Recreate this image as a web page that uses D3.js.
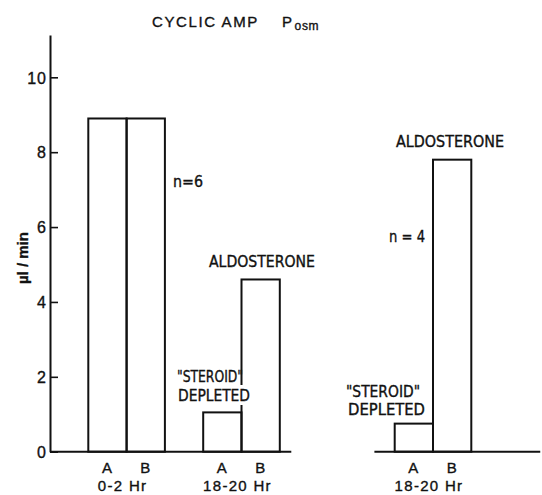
<!DOCTYPE html>
<html>
<head>
<meta charset="utf-8">
<script src="https://cdn.jsdelivr.net/npm/d3@7"></script>
<style>
  body { margin: 0; background: #fff; }
  svg { display: block; }
  text { fill: #111; stroke: #111; stroke-width: 0.35px; }
  .wide { font-family: "Liberation Sans", Arial, sans-serif; }
  .narrow { font-family: "Liberation Sans Narrow", "DejaVu Sans Condensed", sans-serif; }
</style>
</head>
<body>
<script>
// chart values
var conditions = ["A", "B"];
var earlyValues = [8.9, 8.9];       // 0-2 Hr, n=6
var lateValues = [1.05, 4.6];       // 18-20 Hr, n=6
var secondValues = [0.75, 7.8];     // 18-20 Hr, n=4
var periodLabels = ["0-2 Hr", "18-20 Hr", "18-20 Hr"];
var yTicks = [0, 2, 4, 6, 8, 10];

var width = 542, height = 495;

var svg = d3.select("body").append("svg")
    .attr("width", width)
    .attr("height", height);

// x in "bar widths" from the y axis
var x = d3.scaleLinear().domain([0, 1]).range([50, 88.3]);
var y = d3.scaleLinear().domain([0, 11.13]).range([451.7, 35]);

var groups = [
    {start: 1, values: earlyValues, period: periodLabels[0]},
    {start: 4, values: lateValues, period: periodLabels[1]},
    {start: 9, values: secondValues, period: periodLabels[2]}
];

// y axis
var axis = svg.append("g")
    .attr("transform", "translate(" + x(0) + ",0)")
    .call(d3.axisLeft(y).tickValues(yTicks).tickSizeInner(-8).tickSizeOuter(0).tickPadding(3));
axis.select(".domain").attr("stroke", "#111").attr("stroke-width", 2);
axis.selectAll(".tick line").attr("stroke", "#111").attr("stroke-width", 1.6);
axis.selectAll(".tick text")
    .attr("class", "wide")
    .attr("dy", "0.36em")
    .style("font-size", "16px")
    .style("letter-spacing", "1px")
    .attr("fill", "#111");

// baselines
svg.append("line")
    .attr("x1", x(0)).attr("x2", x(6.3))
    .attr("y1", y(0)).attr("y2", y(0))
    .attr("stroke", "#111").attr("stroke-width", 2);
svg.append("line")
    .attr("x1", x(8.47)).attr("x2", x(12.8))
    .attr("y1", y(0)).attr("y2", y(0))
    .attr("stroke", "#111").attr("stroke-width", 2);

// bars
groups.forEach(function(g) {
    svg.append("g")
        .selectAll("rect")
        .data(g.values)
        .enter()
        .append("rect")
        .attr("x", function(d, i) { return x(g.start + i); })
        .attr("width", x(1) - x(0))
        .attr("y", function(d) { return y(d); })
        .attr("height", function(d) { return y(0) - y(d); })
        .attr("fill", "none")
        .attr("stroke", "#111")
        .attr("stroke-width", 2);

    svg.append("g")
        .selectAll("text")
        .data(conditions)
        .enter()
        .append("text")
        .attr("class", "wide")
        .attr("x", function(d, i) { return x(g.start + i + 0.5) - 0.5; })
        .attr("y", 473)
        .attr("text-anchor", "middle")
        .style("font-size", "15px")
        .text(function(d) { return d; });

    svg.append("text")
        .attr("class", "wide")
        .attr("x", x(g.start + 1) - 4)
        .attr("y", 491)
        .attr("text-anchor", "middle")
        .style("font-size", "15px")
        .style("letter-spacing", "1.3px")
        .text(g.period);
});

// title
var title = svg.append("text")
    .attr("class", "wide")
    .attr("x", 152)
    .attr("y", 27)
    .style("font-size", "15px")
    .style("letter-spacing", "1.6px");
title.append("tspan").text("CYCLIC  AMP");
title.append("tspan").attr("x", 282).text("P");
title.append("tspan").attr("dx", 1).attr("dy", 3).style("font-size", "12px").style("letter-spacing", "0.6px").text("osm");

// y label
svg.append("text")
    .attr("class", "wide")
    .attr("transform", "translate(28,258) rotate(-90)")
    .attr("text-anchor", "middle")
    .style("font-size", "15px")
    .style("font-weight", "bold")
    .text("\u00b5l / min");

// annotations
function note(tx, ty, str, len, size) {
    return svg.append("text")
        .attr("class", "narrow")
        .attr("x", tx)
        .attr("y", ty)
        .attr("textLength", len)
        .attr("lengthAdjust", "spacingAndGlyphs")
        .style("font-size", size + "px")
        .text(str);
}

note(173, 187, "n=6", 30, 16);
note(209, 267, "ALDOSTERONE", 106, 16);
note(396, 147, "ALDOSTERONE", 108, 16);
note(389, 242, "n = 4", 36, 16);

// steroid depleted, panel 1 (label knocks out the bar edge)
svg.append("rect")
    .attr("x", 176).attr("y", 385)
    .attr("width", 76).attr("height", 20)
    .attr("fill", "#fff");
note(177, 382, "\"STEROID\"", 66, 16);
note(178, 401, "DEPLETED", 72, 16);

// steroid depleted, panel 2
note(346, 397, "\"STEROID\"", 74, 16);
note(348, 415, "DEPLETED", 77, 16);
</script>
</body>
</html>
